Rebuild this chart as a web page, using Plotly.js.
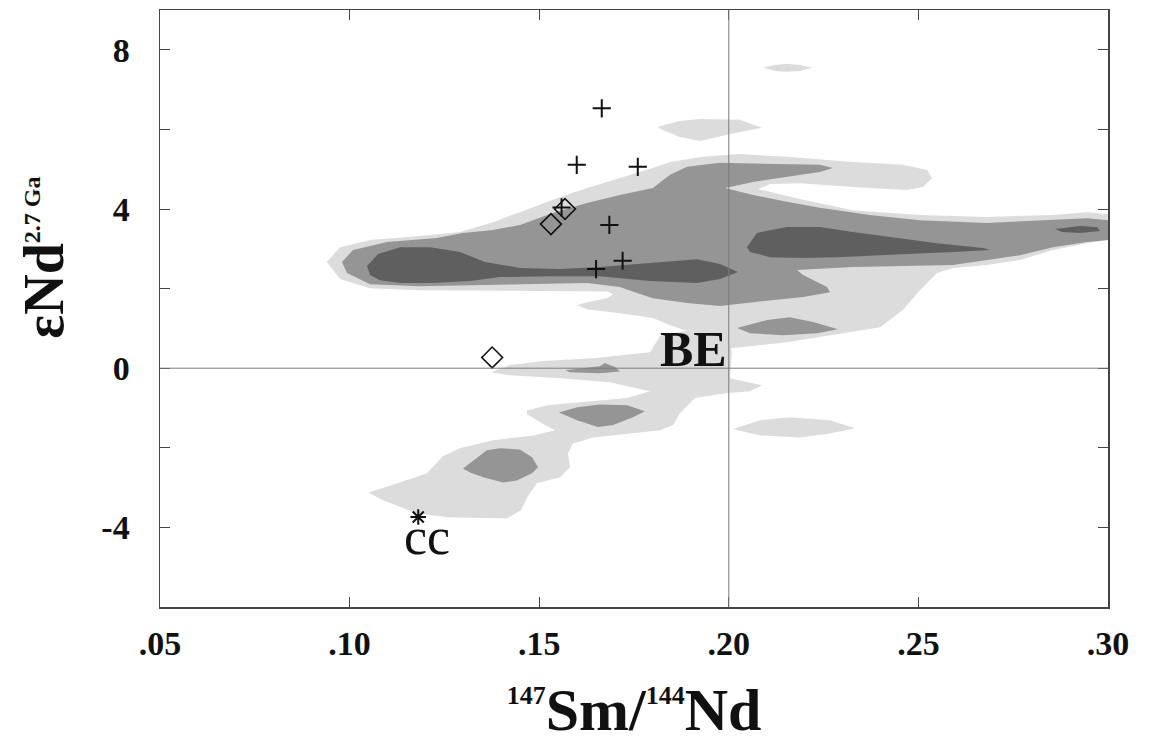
<!DOCTYPE html>
<html>
<head>
<meta charset="utf-8">
<script src="https://cdn.plot.ly/plotly-3.0.1.min.js"></script>
<style>html,body{margin:0;padding:0;background:#fff;}#chart{width:1154px;height:751px;}</style>
</head>
<body>
<div id="chart"></div>
<script>
// ---------- axis ticks ----------
const xTickVals = [0.05, 0.10, 0.15, 0.20, 0.25, 0.30];
const xTickText = ['.05', '.10', '.15', '.20', '.25', '.30'];
const yTickVals = [-4, 0, 4, 8];
const yTickText = ['-4', '0', '4', '8'];
const yMinorStep = 2;

// ---------- density contours (outer / light level) ----------
const lightMainX = [0.0940,0.0975,0.1054,0.1186,0.1291,0.1378,0.1449,0.1536,0.1626,0.1713,0.1800,0.1845,0.1932,0.2029,0.2153,0.2327,0.2459,0.2523,0.2536,0.2512,0.2470,0.2327,0.2188,0.2109,0.2077,0.2196,0.2327,0.2504,0.2681,0.2855,0.2945,0.3000,0.3000,0.2945,0.2855,0.2768,0.2681,0.2591,0.2549,0.2504,0.2459,0.2399,0.2240,0.2153,0.2003,0.1924,0.1845,0.1800,0.1713,0.1626,0.1600,0.1626,0.1679,0.1695,0.1679,0.1536,0.1362,0.1186,0.1054,0.0975];
const lightMainY = [2.67,3.04,3.22,3.32,3.42,3.67,3.92,4.23,4.53,4.78,5.03,5.18,5.31,5.38,5.31,5.18,5.11,4.98,4.78,4.55,4.48,4.55,4.65,4.63,4.50,4.23,3.97,3.85,3.80,3.85,3.92,3.87,3.22,3.14,2.97,2.72,2.59,2.52,2.39,1.96,1.46,1.03,0.78,0.65,0.50,0.83,1.08,1.26,1.38,1.48,1.58,1.66,1.76,1.86,1.93,1.94,1.94,1.96,2.01,2.24];
const lightChainX = [0.1373,0.1423,0.1510,0.1642,0.1792,0.1819,0.1924,0.1998,0.2008,0.2003,0.2087,0.2056,0.1990,0.1911,0.1871,0.1853,0.1819,0.1732,0.1642,0.1589,0.1576,0.1581,0.1555,0.1494,0.1468,0.1452,0.1415,0.1265,0.1178,0.1088,0.1049,0.1133,0.1204,0.1246,0.1291,0.1378,0.1484,0.1542,0.1521,0.1468,0.1468,0.1521,0.1600,0.1732,0.1792,0.1687,0.1555,0.1423];
const lightChainY = [-0.10,0.08,0.18,0.25,0.40,0.81,1.01,0.96,0.40,-0.25,-0.43,-0.58,-0.63,-0.75,-1.13,-1.43,-1.56,-1.64,-1.74,-1.89,-2.14,-2.49,-2.74,-2.89,-3.25,-3.57,-3.77,-3.75,-3.65,-3.32,-3.12,-2.87,-2.64,-2.21,-2.01,-1.81,-1.69,-1.56,-1.46,-1.16,-1.06,-0.93,-0.86,-0.75,-0.58,-0.35,-0.25,-0.18];
const lightTopX = [0.2090,0.2122,0.2153,0.2188,0.2219,0.2188,0.2153,0.2122];
const lightTopY = [7.55,7.62,7.65,7.62,7.55,7.47,7.45,7.47];
const lightUpperX = [0.1811,0.1871,0.1924,0.2029,0.2087,0.2016,0.1924,0.1871,0.1832];
const lightUpperY = [6.06,6.21,6.26,6.24,6.04,5.91,5.71,5.81,5.96];
const lightLowerX = [0.2011,0.2082,0.2161,0.2267,0.2333,0.2267,0.2188,0.2082];
const lightLowerY = [-1.53,-1.31,-1.23,-1.31,-1.51,-1.64,-1.74,-1.69];

// ---------- middle level ----------
const midMainX = [0.0980,0.1009,0.1099,0.1230,0.1299,0.1378,0.1449,0.1536,0.1626,0.1713,0.1800,0.1845,0.1890,0.1977,0.2240,0.2275,0.2240,0.2153,0.2064,0.1990,0.2064,0.2153,0.2240,0.2372,0.2504,0.2681,0.2855,0.2945,0.3000,0.3000,0.2945,0.2855,0.2768,0.2681,0.2591,0.2327,0.2180,0.2196,0.2259,0.2267,0.2196,0.2064,0.1977,0.1890,0.1800,0.1758,0.1713,0.1626,0.1362,0.1186,0.1054,0.0993];
const midMainY = [2.67,2.97,3.17,3.27,3.40,3.47,3.60,3.90,4.15,4.35,4.53,4.86,5.06,5.16,5.11,5.03,4.93,4.81,4.68,4.53,4.35,4.18,4.03,3.85,3.72,3.65,3.72,3.77,3.72,3.22,3.17,3.04,2.84,2.72,2.59,2.54,2.47,2.34,2.04,1.91,1.79,1.66,1.56,1.64,1.76,1.89,2.04,2.14,2.09,2.06,2.11,2.39];
const midBEX = [0.2022,0.2101,0.2161,0.2222,0.2288,0.2233,0.2143,0.2056];
const midBEY = [1.01,1.21,1.28,1.16,0.98,0.88,0.83,0.88];
const midZeroX = [0.1568,0.1660,0.1673,0.1700,0.1713,0.1660,0.1581];
const midZeroY = [-0.05,0.05,0.13,0.03,-0.08,-0.13,-0.10];
const midNegX = [0.1552,0.1600,0.1660,0.1732,0.1779,0.1747,0.1695,0.1655,0.1600];
const midNegY = [-1.11,-0.98,-0.91,-0.93,-1.08,-1.23,-1.43,-1.48,-1.31];
const midLowX = [0.1299,0.1336,0.1362,0.1397,0.1449,0.1481,0.1497,0.1481,0.1441,0.1405,0.1352,0.1318];
const midLowY = [-2.52,-2.24,-2.06,-2.01,-2.04,-2.24,-2.49,-2.64,-2.82,-2.87,-2.74,-2.62];

// ---------- inner / dark level ----------
const darkLeftX = [0.1046,0.1075,0.1133,0.1212,0.1291,0.1357,0.1449,0.1555,0.1660,0.1792,0.1916,0.1977,0.2024,0.1977,0.1916,0.1792,0.1660,0.1528,0.1397,0.1318,0.1220,0.1133,0.1080,0.1054];
const darkLeftY = [2.57,2.87,3.04,3.04,2.92,2.67,2.52,2.49,2.54,2.64,2.74,2.62,2.42,2.24,2.14,2.19,2.31,2.31,2.29,2.19,2.14,2.14,2.21,2.34];
const darkRightX = [0.2048,0.2074,0.2153,0.2240,0.2327,0.2417,0.2549,0.2670,0.2689,0.2591,0.2417,0.2285,0.2196,0.2109,0.2056];
const darkRightY = [3.04,3.40,3.55,3.55,3.42,3.30,3.14,3.02,2.97,2.92,2.84,2.79,2.77,2.79,2.92];
const darkEdgeX = [0.2860,0.2926,0.2971,0.2979,0.2926,0.2879];
const darkEdgeY = [3.50,3.57,3.55,3.45,3.40,3.42];

// ---------- samples ----------
const plusX = [0.1665, 0.1599, 0.1760, 0.1685, 0.1720, 0.1650, 0.1559];
const plusY = [6.53, 5.11, 5.06, 3.60, 2.70, 2.49, 4.04];
const diamondX = [0.1568, 0.1531, 0.1376];
const diamondY = [4.00, 3.62, 0.27];
const ccX = [0.1181];
const ccY = [-3.74];

const LIGHT = '#dcdcdc', MID = '#959595', DARK = '#5f5f5f';
function poly(x, y, color) {
  return {type: 'scatter', mode: 'lines', x: x, y: y, fill: 'toself', fillcolor: color,
          line: {width: 0, color: color}, hoverinfo: 'skip', showlegend: false};
}

const traces = [
  poly(lightMainX, lightMainY, LIGHT),
  poly(lightChainX, lightChainY, LIGHT),
  poly(lightTopX, lightTopY, LIGHT),
  poly(lightUpperX, lightUpperY, LIGHT),
  poly(lightLowerX, lightLowerY, LIGHT),
  poly(midMainX, midMainY, MID),
  poly(midBEX, midBEY, MID),
  poly(midZeroX, midZeroY, MID),
  poly(midNegX, midNegY, MID),
  poly(midLowX, midLowY, MID),
  poly(darkLeftX, darkLeftY, DARK),
  poly(darkRightX, darkRightY, DARK),
  poly(darkEdgeX, darkEdgeY, DARK),
  {type: 'scatter', mode: 'markers', x: plusX, y: plusY, showlegend: false, hoverinfo: 'skip',
   marker: {symbol: 'cross-thin-open', size: 13, color: '#111', line: {width: 2, color: '#111'}}},
  {type: 'scatter', mode: 'markers', x: diamondX, y: diamondY, showlegend: false, hoverinfo: 'skip',
   marker: {symbol: 'diamond-open', size: 16, color: '#111', line: {width: 1.6, color: '#111'}}},
  {type: 'scatter', mode: 'markers', x: ccX, y: ccY, showlegend: false, hoverinfo: 'skip',
   marker: {symbol: 'asterisk-open', size: 13, color: '#111', line: {width: 2, color: '#111'}}}
];

const serif = 'Liberation Serif, Times New Roman, serif';
const layout = {
  width: 1154, height: 751,
  margin: {l: 160, r: 46, t: 10, b: 144},
  paper_bgcolor: '#ffffff', plot_bgcolor: '#ffffff',
  showlegend: false,
  xaxis: {
    range: [0.05, 0.30], tickvals: xTickVals, ticktext: xTickText,
    ticks: 'inside', ticklen: 10, tickwidth: 1, tickcolor: '#444',
    showline: true, linecolor: '#444', linewidth: 1.5, mirror: 'ticks',
    showgrid: false, zeroline: false,
    ticklabelstandoff: 6,
    tickfont: {family: serif, size: 34, color: '#111', weight: 'bold'},
    title: {text: '<sup><span style="font-size:26px">147</span></sup>Sm/<sup><span style="font-size:26px">144</span></sup>Nd',
            font: {family: serif, size: 60, color: '#111', weight: 'bold'}, standoff: 26}
  },
  yaxis: {
    range: [-6, 9], tickvals: yTickVals, ticktext: yTickText,
    ticks: 'inside', ticklen: 10, tickwidth: 1, tickcolor: '#444',
    showline: true, linecolor: '#444', linewidth: 1.5, mirror: 'ticks',
    showgrid: false, zeroline: false,
    minor: {tick0: 0, dtick: yMinorStep, ticks: 'inside', ticklen: 10, tickwidth: 1, tickcolor: '#444', showgrid: false},
    ticklabelstandoff: 22,
    tickfont: {family: serif, size: 34, color: '#111', weight: 'bold'},
    title: {text: ''}
  },
  shapes: [
    {type: 'line', xref: 'x', yref: 'y', x0: 0.20, x1: 0.20, y0: -6, y1: 9, layer: 'above',
     line: {color: '#7a7a7a', width: 1}},
    {type: 'line', xref: 'x', yref: 'y', x0: 0.05, x1: 0.30, y0: 0, y1: 0, layer: 'above',
     line: {color: '#7a7a7a', width: 1}}
  ],
  annotations: [
    {xref: 'paper', yref: 'paper', x: -0.1224, y: 0.585, xanchor: 'center', yanchor: 'middle',
     textangle: -90, showarrow: false,
     text: 'εNd<sup><span style="font-size:24px">2.7 Ga</span></sup>',
     font: {family: serif, size: 56, color: '#111', weight: 'bold'}},
    {xref: 'x', yref: 'y', x: 0.1908, y: 0.48, showarrow: false, xanchor: 'center', yanchor: 'middle',
     text: 'BE', font: {family: serif, size: 50, color: '#111', weight: 'bold'}},
    {xref: 'x', yref: 'y', x: 0.1204, y: -4.22, showarrow: false, xanchor: 'center', yanchor: 'middle',
     text: 'cc', font: {family: serif, size: 52, color: '#111'}}
  ]
};

Plotly.newPlot('chart', traces, layout, {staticPlot: true, displayModeBar: false});
</script>
</body>
</html>
